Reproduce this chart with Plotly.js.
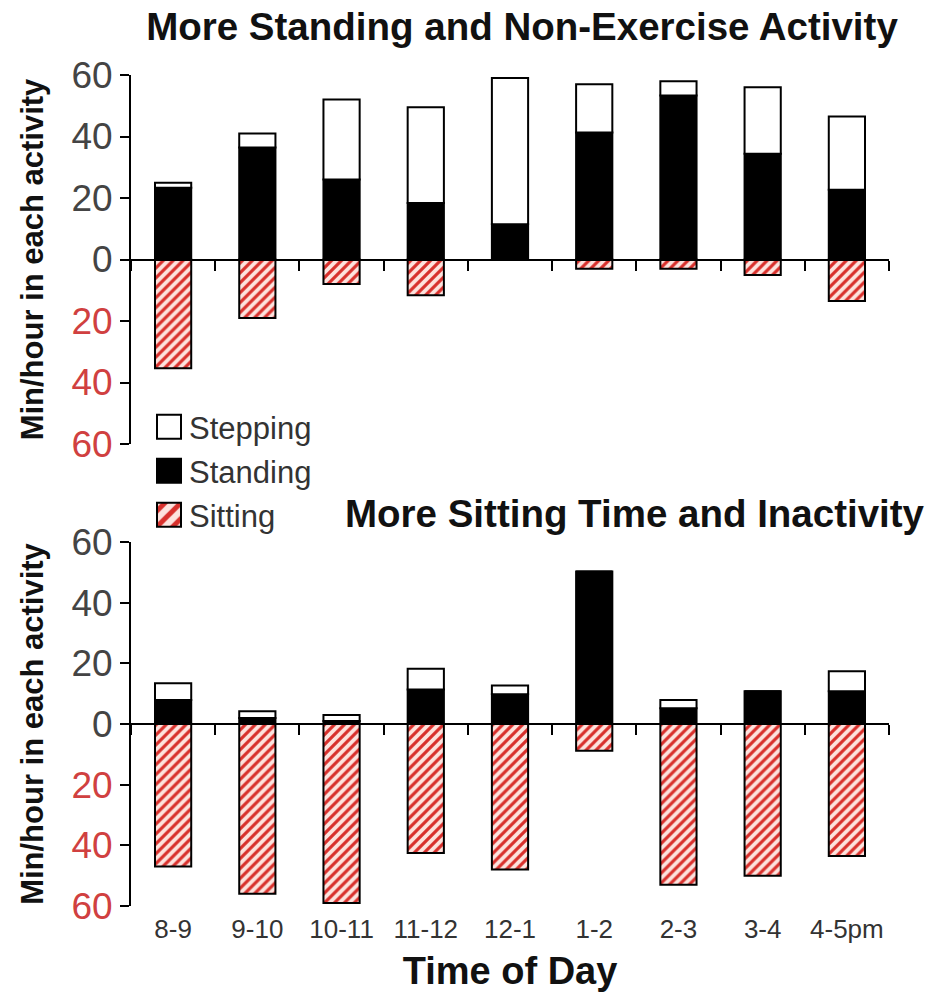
<!DOCTYPE html>
<html>
<head>
<meta charset="utf-8">
<script src="https://cdn.plot.ly/plotly-3.0.1.min.js"></script>
<style>html,body{margin:0;padding:0;background:#fff;}</style>
</head>
<body>
<div id="chart" style="width:938px;height:992px;"></div>
<script>
// ---- data ----
const categories = ['8-9','9-10','10-11','11-12','12-1','1-2','2-3','3-4','4-5pm'];

// Top panel: More Standing and Non-Exercise Activity (min/hour)
const topStanding = [23.3, 36.4, 26, 18.4, 11.5, 41.3, 53.3, 34.4, 22.7];
const topStepping = [1.7, 4.6, 26, 31.1, 47.5, 15.7, 4.7, 21.6, 23.8];
const topSitting  = [35.4, 19, 8, 11.6, 0, 3, 3, 5, 13.5];

// Bottom panel: More Sitting Time and Inactivity (min/hour)
const botStanding = [7.9, 2, 1, 11.4, 9.8, 50.3, 5.2, 10.8, 10.8];
const botStepping = [5.5, 2.2, 2, 6.8, 2.9, 0, 2.7, 0, 6.6];
const botSitting  = [47, 56, 59, 42.5, 48, 8.8, 53, 50, 43.5];

const yTickVals = [-60, -40, -20, 0, 20, 40, 60];
const yTickLabels = ['60', '40', '20', '0', '20', '40', '60'];

// ---- styles ----
const RED = '#d04040';
const FONT = 'Liberation Sans, Arial, Helvetica, sans-serif';
const yTickText = yTickVals.map((v, i) => v < 0
  ? '<span style="color:' + RED + '">' + yTickLabels[i] + '</span>'
  : yTickLabels[i]);

const barW = 0.43;
const outline = {color: '#000', width: 2};
const hatch = {shape: '/', fgcolor: '#d8302c', bgcolor: '#fde3de', size: 7, solidity: 0.45};

function neg(a) { return a.map(v => -v); }

const traces = [
  {type: 'bar', name: 'Standing', x: categories, y: topStanding, xaxis: 'x', yaxis: 'y',
   width: barW, marker: {color: '#000', line: outline}, legend: 'legend2', showlegend: true},
  {type: 'bar', name: 'Stepping', x: categories, y: topStepping, xaxis: 'x', yaxis: 'y',
   width: barW, marker: {color: '#fff', line: outline}, legend: 'legend', showlegend: true},
  {type: 'bar', name: 'Sitting', x: categories, y: neg(topSitting), xaxis: 'x', yaxis: 'y',
   width: barW, marker: {color: '#fde3de', line: outline, pattern: hatch}, legend: 'legend3', showlegend: true},

  {type: 'bar', name: 'Standing', x: categories, y: botStanding, xaxis: 'x2', yaxis: 'y2',
   width: barW, marker: {color: '#000', line: outline}, showlegend: false},
  {type: 'bar', name: 'Stepping', x: categories, y: botStepping, xaxis: 'x2', yaxis: 'y2',
   width: barW, marker: {color: '#fff', line: outline}, showlegend: false},
  {type: 'bar', name: 'Sitting', x: categories, y: neg(botSitting), xaxis: 'x2', yaxis: 'y2',
   width: barW, marker: {color: '#fde3de', line: outline, pattern: hatch}, showlegend: false}
];

const H = 992, L = 131, R = 49;
function py(p) { return 1 - p / H; }          // pixel row -> paper y (t=b=0)
function px(p) { return (p - L) / (938 - L - R); }

const topDom = [py(444), py(75)];
const botDom = [py(906), py(542)];

const tickFont = {family: FONT, size: 37, color: '#444'};
const yTitleFont = {family: FONT, size: 31, color: '#111'};

function yAxis(dom, anchor) {
  return {
    domain: dom, anchor: anchor, range: [-60, 60], fixedrange: true,
    tickmode: 'array', tickvals: yTickVals, ticktext: yTickText,
    ticks: 'outside', ticklen: 9, tickwidth: 2, tickcolor: '#000',
    showline: true, linecolor: '#000', linewidth: 2,
    showgrid: false, zeroline: false,
    tickfont: tickFont,
    title: {text: '<b>Min/hour in each activity</b>', font: yTitleFont, standoff: 19}
  };
}

function zeroXAxis(dom, labels) {
  const ax = {
    domain: [0, 1], anchor: 'free', position: (dom[0] + dom[1]) / 2,
    type: 'category', categoryorder: 'array', categoryarray: categories,
    range: [-0.5, 8.5], fixedrange: true,
    showticklabels: !!labels, ticks: 'outside', tickson: 'boundaries',
    ticklen: 10, tickwidth: 2, tickcolor: '#000',
    showline: true, linecolor: '#000', linewidth: 2,
    showgrid: false, zeroline: false
  };
  if (labels) {
    ax.tickfont = {family: FONT, size: 26, color: '#333'};
    ax.tickangle = 0;
    ax.ticklabelstandoff = 182;
    ax.title = {text: '<b>Time of Day</b>', font: {family: FONT, size: 38, color: '#111'}, standoff: 16};
  }
  return ax;
}

const legendFont = {family: FONT, size: 31, color: '#333'};

const layout = {
  width: 938, height: 992,
  margin: {l: L, r: R, t: 0, b: 0},
  paper_bgcolor: '#fff', plot_bgcolor: 'rgba(0,0,0,0)',
  barmode: 'relative',
  font: {family: FONT, color: '#111'},
  title: {
    text: '<b>More Standing and Non-Exercise Activity</b>',
    font: {family: FONT, size: 38.5, color: '#111'},
    xref: 'container', yref: 'container',
    x: 522 / 938, xanchor: 'center', y: 1 - 27 / H, yanchor: 'middle'
  },
  annotations: [{
    text: '<b>More Sitting Time and Inactivity</b>',
    font: {family: FONT, size: 38.5, color: '#111'},
    xref: 'paper', yref: 'paper', x: px(635), y: py(513),
    xanchor: 'center', yanchor: 'middle', showarrow: false
  }],
  xaxis: zeroXAxis(topDom, false),
  yaxis: yAxis(topDom, 'x'),
  xaxis2: zeroXAxis(botDom, true),
  yaxis2: yAxis(botDom, 'x2'),
  legend:  {x: px(149), y: py(427), xanchor: 'left', yanchor: 'middle', bgcolor: 'rgba(0,0,0,0)', font: legendFont},
  legend2: {x: px(149), y: py(471), xanchor: 'left', yanchor: 'middle', bgcolor: 'rgba(0,0,0,0)', font: legendFont},
  legend3: {x: px(149), y: py(515), xanchor: 'left', yanchor: 'middle', bgcolor: 'rgba(0,0,0,0)', font: legendFont},
  showlegend: true
};

Plotly.newPlot('chart', traces, layout, {displayModeBar: false, staticPlot: true}).then(gd => {
  // enlarge the legend swatches to match the reference
  gd.querySelectorAll('g.legendpoints path').forEach(p => {
    const t = p.getAttribute('transform') || '';
    p.setAttribute('transform', t + ' scale(2)');
    p.style.strokeWidth = '1px';
  });
});
</script>
</body>
</html>
